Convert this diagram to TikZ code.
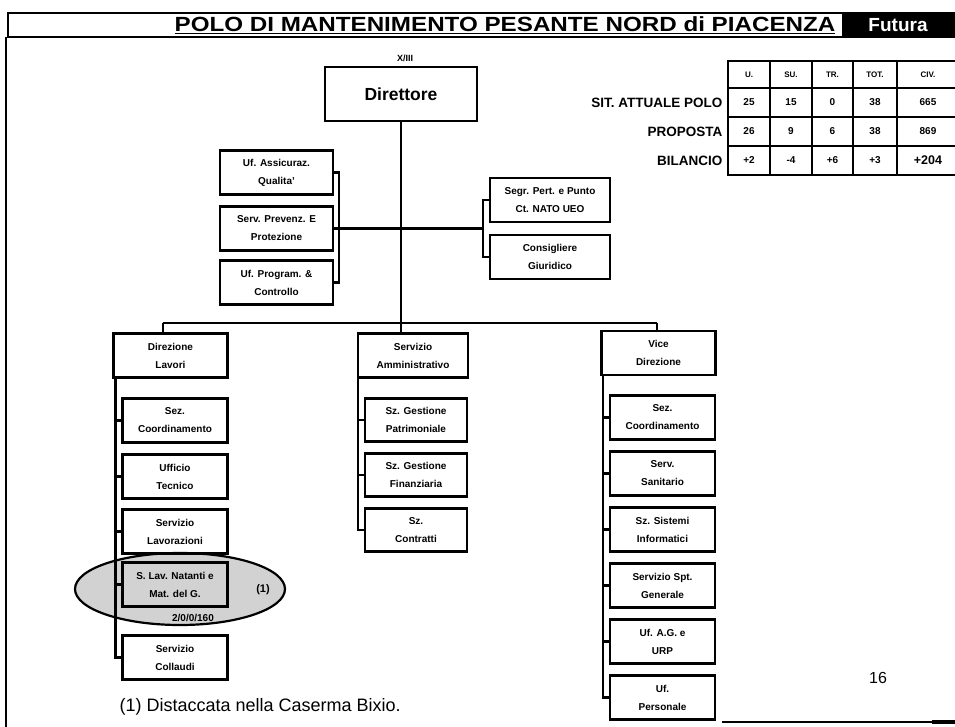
\documentclass[tikz,border=0pt]{standalone}
\usepackage{fontspec}
\setmainfont{Liberation Sans}
\usetikzlibrary{positioning}

\begin{document}
\begin{tikzpicture}[
    x=1pt, y=-1pt,
    line/.style={line width=2.2pt},
    box/.style={rectangle, draw, line width=2.2pt, outer sep=0pt, minimum width=105pt, minimum height=44pt, align=center, inner sep=1pt, font=\bfseries\fontsize{10}{18}\selectfont},
    head/.style={box, minimum width=114pt},
    cell/.style={rectangle, draw, line width=2.2pt, outer sep=0pt, minimum width=42pt, minimum height=29pt, inner sep=0pt, font=\bfseries\fontsize{10}{11}\selectfont},
    rowlab/.style={anchor=east, font=\bfseries\fontsize{13.5}{15}\selectfont},
    ]
    \useasboundingbox (0,0) rectangle (955,727);
    % Frame and title
    \draw[line] (8,13) rectangle (955,37);
    \draw[line] (6,37) -- (6,727);
    \draw[line] (722,722) -- (955,722);
    \draw[line width=3.5pt] (932,722) -- (955,722);
    \node[anchor=base, font=\bfseries\fontsize{20.5}{22}\selectfont] (titolo) at (505,32) {\scalebox{1.18}[1]{\underline{POLO DI MANTENIMENTO PESANTE NORD di PIACENZA}}};
    \fill (842,14) rectangle (955,36);
    \node[text=white, font=\bfseries\fontsize{19}{20}\selectfont] (logo) at (898,25) {Futura};

    % Direttore and staff
    \node[box, minimum width=152pt, minimum height=54pt, font=\bfseries\fontsize{17.5}{19}\selectfont] (dir) at (401,94) {Direttore};
    \node[font=\bfseries\fontsize{9}{10}\selectfont] (grado) at (405,58) {X/III};
    \node[box, minimum width=113pt] (uf_ass) at (276.5,172.5) {Uf. Assicuraz.\\Qualita'};
    \node[box, minimum width=113pt, below=12pt of uf_ass] (serv_prev) {Serv. Prevenz. E\\Protezione};
    \node[box, minimum width=113pt, below=10pt of serv_prev] (uf_prog) {Uf. Program. \&\\Controllo};
    \node[box, minimum width=120pt] (segr) at (550,200) {Segr. Pert. e Punto\\Ct. NATO UEO};
    \node[box, minimum width=120pt, below=13pt of segr] (consig) {Consigliere\\Giuridico};
    \coordinate[left=7pt of segr.west] (br_r);

    % Edges staff
    \draw[line] (uf_ass.east) -- ++(6pt,0) |- (uf_prog.east);
    \draw[line] (serv_prev.east) -- (serv_prev.east -| br_r);
    \draw[line] (segr.west) -- (br_r) |- (consig.west);

    % Heads of the three branches
    \node[head] (dir_lav) at (170.5,355.5) {Direzione\\Lavori};
    \node[head, minimum width=110pt] (serv_amm) at (413,355.5) {Servizio\\Amministrativo};
    \node[head] (vice_dir) at (658.5,353) {Vice\\Direzione};
    \coordinate (bus_l) at (163,323);
    \coordinate (bus_r) at (657,323);
    \draw[line] (dir.south) -- (dir.south |- serv_amm.north);
    \draw[line] (bus_l) -- (bus_r);
    \draw[line] (bus_l) -- (bus_l |- dir_lav.north);
    \draw[line] (bus_r) -- (bus_r |- vice_dir.north);

    % Direzione Lavori
    \draw[line, fill=gray!35] (180,589) ellipse [x radius=105pt, y radius=36pt];
    \node[box] (sez_coord_l) at (175,420.5) {Sez.\\Coordinamento};
    \node[box, below=12pt of sez_coord_l] (uff_tec) {Ufficio\\Tecnico};
    \node[box, below=11pt of uff_tec] (serv_lav) {Servizio\\Lavorazioni};
    \node[box, below=9pt of serv_lav] (lav_nat) {S. Lav. Natanti e\\Mat. del G.};
    \node[box, below=29pt of lav_nat] (serv_coll) {Servizio\\Collaudi};
    \node[font=\bfseries\fontsize{11}{12}\selectfont] (nota_1) at (263,590) {(1)};
    \node[font=\bfseries\fontsize{10}{11}\selectfont] (codice) at (193,618) {2/0/0/160};
    \coordinate[right=2pt of dir_lav.south west] (sp_l);
    \draw[line] (sp_l) |- (sez_coord_l.west);
    \draw[line] (sp_l) |- (uff_tec.west);
    \draw[line] (sp_l) |- (serv_lav.west);
    \draw[line] (sp_l) |- (lav_nat.west);
    \draw[line] (sp_l) |- (serv_coll.west);

    % Servizio Amministrativo
    \node[box, minimum width=102pt, minimum height=43pt] (gest_pat) at (416,420) {Sz. Gestione\\Patrimoniale};
    \node[box, minimum width=102pt, minimum height=43pt, below=12pt of gest_pat] (gest_fin) {Sz. Gestione\\Finanziaria};
    \node[box, minimum width=102pt, minimum height=43pt, below=12pt of gest_fin] (contr) {Sz.\\Contratti};
    \coordinate (sp_a) at (serv_amm.south west);
    \draw[line] (sp_a) |- (gest_pat.west);
    \draw[line] (sp_a) |- (gest_fin.west);
    \draw[line] (sp_a) |- (contr.west);

    % Vice Direzione
    \node[box] (sez_coord_v) at (662.5,417.5) {Sez.\\Coordinamento};
    \node[box, below=12pt of sez_coord_v] (serv_san) {Serv.\\Sanitario};
    \node[box, below=12pt of serv_san] (sist_inf) {Sz. Sistemi\\Informatici};
    \node[box, below=12pt of sist_inf] (spt_gen) {Servizio Spt.\\Generale};
    \node[box, below=12pt of spt_gen] (uf_urp) {Uf. A.G. e\\URP};
    \node[box, below=12pt of uf_urp] (uf_pers) {Uf.\\Personale};
    \coordinate[right=1.5pt of vice_dir.south west] (sp_v);
    \draw[line] (sp_v) |- (sez_coord_v.west);
    \draw[line] (sp_v) |- (serv_san.west);
    \draw[line] (sp_v) |- (sist_inf.west);
    \draw[line] (sp_v) |- (spt_gen.west);
    \draw[line] (sp_v) |- (uf_urp.west);
    \draw[line] (sp_v) |- (uf_pers.west);

    % Table
    \node[cell, minimum height=27pt, font=\bfseries\fontsize{8}{9}\selectfont] (h_u) at (749,74.5) {U.};
    \node[cell, minimum height=27pt, font=\bfseries\fontsize{8}{9}\selectfont, right=0pt of h_u] (h_su) {SU.};
    \node[cell, minimum height=27pt, font=\bfseries\fontsize{8}{9}\selectfont, minimum width=41pt, right=0pt of h_su] (h_tr) {TR.};
    \node[cell, minimum height=27pt, font=\bfseries\fontsize{8}{9}\selectfont, minimum width=44pt, right=0pt of h_tr] (h_tot) {TOT.};
    \node[cell, minimum height=27pt, font=\bfseries\fontsize{8}{9}\selectfont, minimum width=62pt, right=0pt of h_tot] (h_civ) {CIV.};
    \node[cell, below=0pt of h_u] (a_u) {25};
    \node[cell, below=0pt of h_su] (a_su) {15};
    \node[cell, minimum width=41pt, below=0pt of h_tr] (a_tr) {0};
    \node[cell, minimum width=44pt, below=0pt of h_tot] (a_tot) {38};
    \node[cell, minimum width=62pt, below=0pt of h_civ] (a_civ) {665};
    \node[cell, below=0pt of a_u] (p_u) {26};
    \node[cell, below=0pt of a_su] (p_su) {9};
    \node[cell, minimum width=41pt, below=0pt of a_tr] (p_tr) {6};
    \node[cell, minimum width=44pt, below=0pt of a_tot] (p_tot) {38};
    \node[cell, minimum width=62pt, below=0pt of a_civ] (p_civ) {869};
    \node[cell, below=0pt of p_u] (b_u) {+2};
    \node[cell, below=0pt of p_su] (b_su) {-4};
    \node[cell, minimum width=41pt, below=0pt of p_tr] (b_tr) {+6};
    \node[cell, minimum width=44pt, below=0pt of p_tot] (b_tot) {+3};
    \node[cell, minimum width=62pt, below=0pt of p_civ, font=\bfseries\fontsize{12.5}{13}\selectfont] (b_civ) {+204};
    \node[rowlab, left=2pt of a_u] (lab_sit) {SIT. ATTUALE POLO};
    \node[rowlab, left=2pt of p_u] (lab_prop) {PROPOSTA};
    \node[rowlab, left=2pt of b_u] (lab_bil) {BILANCIO};

    % Notes
    \node[anchor=west, font=\fontsize{18}{20}\selectfont] (nota) at (116,707) {(1) Distaccata nella Caserma Bixio.};
    \node[font=\fontsize{16}{18}\selectfont] (pagina) at (878,678) {16};
\end{tikzpicture}
\end{document}
